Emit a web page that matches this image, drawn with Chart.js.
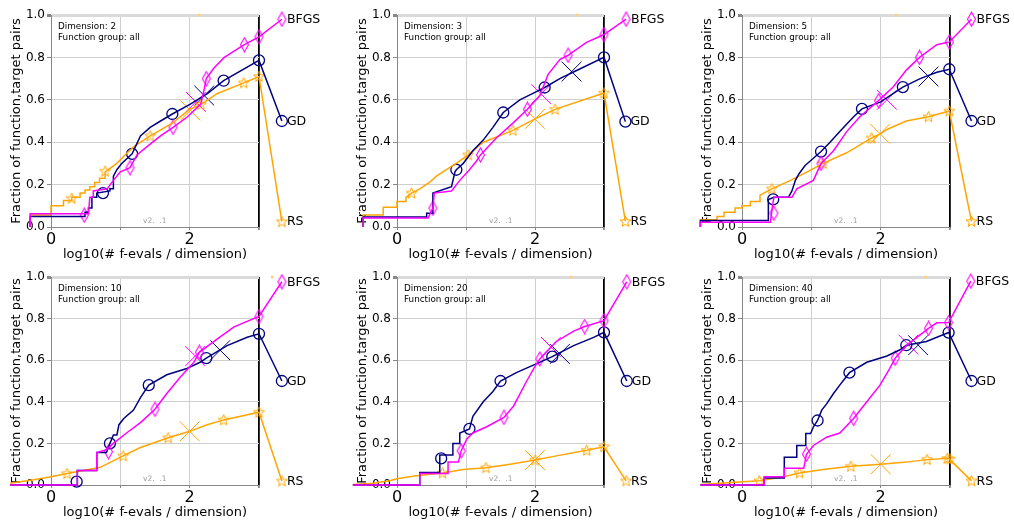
<!DOCTYPE html>
<html>
<head>
<meta charset="utf-8">
<script src="https://cdn.jsdelivr.net/npm/chart.js@4.4.1/dist/chart.umd.min.js"></script>
<style>
  body{margin:0;background:#fff;width:1014px;height:523px;position:relative;overflow:hidden}
  canvas{position:absolute}
</style>
</head>
<body>
<canvas id="p2"></canvas>
<canvas id="p3"></canvas>
<canvas id="p5"></canvas>
<canvas id="p10"></canvas>
<canvas id="p20"></canvas>
<canvas id="p40"></canvas>
<script>
/* ==========================================
   DATA  (x = log10(#f-evals / dim), y = fraction)
========================================== */
const algNames = ["BFGS","GD","RS"];

// D = 2
const bfgs2 = [[-0.30,0],[-0.30,0.063],[0.54,0.063],[0.56,0.14],[0.61,0.14],[0.61,0.17],[0.81,0.18],[0.90,0.22],[1.0,0.26],[1.14,0.28],[1.24,0.34],[1.39,0.38],[1.58,0.43],[1.76,0.47],[1.97,0.52],[2.16,0.58],[2.21,0.65],[2.24,0.70],[2.35,0.75],[2.50,0.80],[2.64,0.83],[2.79,0.86],[3.0,0.897],[3.33,0.98]];
const gd2 = [[-0.30,0],[-0.30,0.05],[0.49,0.05],[0.49,0.07],[0.54,0.07],[0.54,0.09],[0.59,0.09],[0.59,0.14],[0.66,0.14],[0.66,0.16],[0.85,0.17],[0.85,0.18],[0.90,0.18],[0.90,0.24],[0.95,0.27],[1.02,0.30],[1.17,0.345],[1.29,0.43],[1.43,0.47],[1.58,0.50],[1.75,0.533],[2.01,0.58],[2.26,0.63],[2.49,0.69],[3.0,0.786],[3.33,0.50]];
const rs2 = [[-0.30,0],[-0.30,0.057],[0,0.057],[0,0.10],[0.18,0.10],[0.18,0.125],[0.30,0.125],[0.30,0.14],[0.42,0.14],[0.42,0.16],[0.49,0.16],[0.49,0.175],[0.56,0.175],[0.56,0.19],[0.63,0.19],[0.63,0.21],[0.70,0.21],[0.70,0.23],[0.78,0.23],[0.78,0.26],[0.95,0.30],[1.10,0.35],[1.20,0.38],[1.43,0.43],[1.75,0.49],[2.0,0.555],[2.16,0.577],[2.4,0.63],[2.78,0.68],[3.0,0.71],[3.33,0.025]];
const bfgs2Marks = [[0.48,0.056],[1.14,0.28],[1.76,0.47],[2.24,0.70],[2.79,0.86],[3.0,0.897],[3.33,0.98]];
const gd2Marks = [[0.75,0.16],[1.17,0.345],[1.75,0.533],[2.49,0.69],[3.0,0.786],[3.33,0.50]];
const rs2Marks = [[0.30,0.135],[0.78,0.263],[1.43,0.43],[2.16,0.577],[2.78,0.68],[3.0,0.71],[3.33,0.025]];
const cross2 = [[2.09,0.59],[2.21,0.62],[2.01,0.55]];
const dot2 = [[2.14,1.0]];

// D = 3
const bfgs3 = [[-0.49,0],[-0.49,0.042],[0.45,0.042],[0.52,0.089],[0.54,0.16],[0.79,0.17],[0.91,0.22],[1.05,0.27],[1.15,0.31],[1.21,0.34],[1.44,0.42],[1.68,0.49],[1.89,0.555],[2.07,0.62],[2.19,0.72],[2.36,0.79],[2.48,0.81],[2.74,0.87],[3.0,0.908],[3.32,0.98]];
const gd3 = [[-0.49,0],[-0.49,0.047],[0.43,0.047],[0.43,0.065],[0.52,0.065],[0.52,0.16],[0.79,0.19],[0.84,0.26],[0.86,0.27],[0.96,0.30],[1.03,0.33],[1.10,0.36],[1.25,0.41],[1.39,0.47],[1.54,0.54],[1.78,0.60],[1.97,0.63],[2.14,0.658],[2.36,0.70],[2.55,0.73],[3.0,0.80],[3.31,0.497]];
const rs3 = [[-0.49,0],[-0.49,0.057],[-0.2,0.057],[-0.2,0.093],[0,0.093],[0,0.12],[0.13,0.12],[0.13,0.14],[0.21,0.16],[0.33,0.18],[0.47,0.21],[0.57,0.24],[0.71,0.27],[0.86,0.30],[1.03,0.34],[1.25,0.40],[1.68,0.456],[2.0,0.51],[2.29,0.555],[3.0,0.632],[3.31,0.026]];
const bfgs3Marks = [[0.52,0.089],[1.21,0.34],[1.89,0.555],[2.48,0.81],[3.0,0.908],[3.32,0.98]];
const gd3Marks = [[0.86,0.27],[1.54,0.54],[2.14,0.658],[3.0,0.80],[3.31,0.497]];
const rs3Marks = [[0.21,0.16],[1.03,0.34],[1.68,0.456],[2.29,0.555],[3.0,0.632],[3.31,0.026]];
const cross3 = [[2.09,0.627],[2.53,0.733],[2.0,0.51]];
const dot3 = [[2.61,1.0]];

// D = 5
const bfgs5 = [[-0.60,0],[-0.60,0.022],[0.41,0.022],[0.44,0.10],[0.46,0.14],[0.72,0.14],[0.79,0.18],[1.03,0.22],[1.14,0.30],[1.32,0.36],[1.51,0.45],[1.70,0.52],[1.97,0.596],[2.18,0.66],[2.37,0.74],[2.56,0.80],[2.81,0.86],[2.99,0.873],[3.31,0.98]];
const gd5 = [[-0.60,0],[-0.60,0.031],[0.38,0.031],[0.38,0.13],[0.46,0.14],[0.67,0.14],[0.72,0.17],[0.77,0.22],[0.82,0.25],[0.91,0.29],[0.98,0.31],[1.14,0.356],[1.27,0.40],[1.41,0.45],[1.61,0.52],[1.73,0.557],[2.0,0.59],[2.32,0.66],[2.57,0.70],[2.81,0.73],[2.99,0.744],[3.31,0.50]];
const rs5 = [[-0.60,0],[-0.60,0.034],[-0.36,0.034],[-0.36,0.05],[-0.26,0.05],[-0.26,0.07],[-0.10,0.07],[-0.10,0.09],[0,0.09],[0,0.10],[0.12,0.10],[0.12,0.12],[0.26,0.12],[0.26,0.15],[0.43,0.18],[0.70,0.22],[0.94,0.26],[1.17,0.30],[1.51,0.35],[1.87,0.42],[2.0,0.44],[2.09,0.46],[2.37,0.50],[2.69,0.52],[2.99,0.547],[3.31,0.026]];
const bfgs5Marks = [[0.46,0.065],[1.14,0.30],[1.97,0.596],[2.56,0.80],[2.99,0.873],[3.31,0.98]];
const gd5Marks = [[0.45,0.13],[1.14,0.356],[1.73,0.557],[2.32,0.66],[2.99,0.744],[3.31,0.50]];
const rs5Marks = [[0.43,0.18],[1.17,0.30],[1.87,0.42],[2.69,0.52],[2.99,0.547],[3.31,0.026]];
const cross5 = [[2.09,0.60],[2.69,0.71],[1.99,0.44]];
const dot5 = [[2.22,1.0]];

// D = 10
const bfgs10 = [[-0.59,0],[0.38,0],[0.38,0.07],[0.66,0.07],[0.66,0.156],[0.80,0.17],[0.90,0.20],[1.09,0.25],[1.29,0.30],[1.50,0.364],[1.67,0.44],[1.87,0.52],[2.06,0.59],[2.14,0.638],[2.39,0.70],[2.64,0.76],[3.0,0.81],[3.33,0.977]];
const gd10 = [[-0.59,0],[0.38,0],[0.38,0.07],[0.66,0.07],[0.66,0.156],[0.80,0.156],[0.85,0.20],[0.90,0.24],[0.95,0.24],[0.98,0.29],[1.05,0.32],[1.19,0.36],[1.29,0.42],[1.41,0.48],[1.67,0.53],[1.96,0.56],[2.15,0.59],[2.24,0.61],[2.54,0.67],[2.83,0.71],[3.0,0.727],[3.33,0.50]];
const rs10 = [[-0.59,0.008],[-0.25,0.025],[0,0.04],[0.23,0.055],[0.47,0.07],[0.71,0.085],[1.04,0.14],[1.29,0.18],[1.69,0.227],[2.0,0.258],[2.25,0.29],[2.49,0.313],[3.0,0.35],[3.33,0.019]];
const bfgs10Marks = [[0.83,0.16],[1.50,0.364],[2.14,0.638],[3.0,0.81],[3.33,0.977]];
const gd10Marks = [[0.37,0.016],[0.85,0.20],[1.41,0.48],[2.24,0.61],[3.0,0.727],[3.33,0.50]];
const rs10Marks = [[0.23,0.055],[1.04,0.14],[1.69,0.227],[2.49,0.313],[3.0,0.35],[3.33,0.019]];
const cross10 = [[2.08,0.62],[2.44,0.648],[2.0,0.258]];
const dot10 = [[3.19,1.0]];

// D = 20
const bfgs20 = [[-0.64,0],[0.33,0],[0.33,0.055],[0.74,0.055],[0.74,0.11],[0.89,0.11],[0.93,0.164],[1.01,0.22],[1.10,0.25],[1.30,0.28],[1.55,0.325],[1.69,0.38],[1.88,0.50],[2.0,0.57],[2.07,0.606],[2.31,0.69],[2.56,0.74],[2.72,0.762],[3.0,0.79],[3.33,0.977]];
const gd20 = [[-0.64,0],[0.33,0],[0.33,0.06],[0.62,0.06],[0.62,0.144],[0.81,0.144],[0.81,0.20],[0.91,0.20],[0.91,0.25],[1.05,0.27],[1.10,0.33],[1.25,0.40],[1.39,0.45],[1.50,0.50],[1.73,0.54],[2.0,0.58],[2.25,0.617],[2.56,0.67],[2.85,0.71],[3.0,0.734],[3.33,0.50]];
const rs20 = [[-0.64,0.003],[-0.35,0.008],[-0.11,0.02],[0,0.03],[0.28,0.045],[0.66,0.058],[0.96,0.075],[1.29,0.083],[1.64,0.10],[2.0,0.12],[2.31,0.14],[2.75,0.167],[3.0,0.184],[3.32,0.02]];
const bfgs20Marks = [[0.93,0.164],[1.55,0.325],[2.07,0.606],[2.72,0.762],[3.0,0.79],[3.33,0.977]];
const gd20Marks = [[0.64,0.128],[1.05,0.27],[1.50,0.50],[2.25,0.617],[3.0,0.734],[3.33,0.50]];
const rs20Marks = [[0.66,0.058],[1.29,0.083],[2.0,0.12],[2.75,0.167],[3.0,0.184],[3.32,0.02]];
const cross20 = [[2.23,0.664],[2.36,0.63],[2.0,0.12]];
const dot20 = [[2.52,1.0]];

// D = 40
const bfgs40 = [[-0.60,0],[0.32,0],[0.32,0.04],[0.61,0.04],[0.61,0.08],[0.89,0.08],[0.93,0.148],[1.03,0.19],[1.22,0.23],[1.41,0.25],[1.61,0.32],[1.80,0.40],[1.99,0.48],[2.13,0.56],[2.21,0.61],[2.37,0.67],[2.69,0.753],[2.81,0.78],[2.98,0.781],[3.30,0.98]];
const gd40 = [[-0.60,0],[0.32,0],[0.32,0.034],[0.61,0.034],[0.61,0.133],[0.79,0.133],[0.79,0.19],[0.92,0.19],[0.92,0.247],[0.99,0.247],[1.03,0.28],[1.09,0.31],[1.15,0.36],[1.22,0.39],[1.32,0.44],[1.41,0.48],[1.55,0.54],[1.80,0.59],[2.09,0.62],[2.28,0.65],[2.37,0.672],[2.66,0.69],[2.98,0.733],[3.31,0.50]];
const rs40 = [[-0.60,0.003],[-0.26,0.01],[0.25,0.02],[0.60,0.04],[0.83,0.058],[1.17,0.075],[1.57,0.09],[2.0,0.10],[2.37,0.11],[2.67,0.122],[2.98,0.128],[3.31,0.02]];
const bfgs40Marks = [[0.93,0.148],[1.61,0.32],[2.21,0.61],[2.69,0.753],[2.98,0.781],[3.30,0.98]];
const gd40Marks = [[1.09,0.31],[1.55,0.54],[2.37,0.672],[2.98,0.733],[3.31,0.50]];
const rs40Marks = [[0.25,0.02],[0.83,0.058],[1.57,0.09],[2.67,0.122],[2.96,0.128],[3.0,0.125],[3.31,0.02]];
const cross40 = [[2.40,0.675],[2.54,0.672],[2.0,0.10]];
const dot40 = [[2.65,1.0]];

/* ==========================================
   LAYOUT  (canvas box and plot area, page px)
========================================== */
const panels = [
  {id:"p2",  dim:2,  lines:[bfgs2,gd2,rs2],    marks:[bfgs2Marks,gd2Marks,rs2Marks],    cross:cross2,  dot:dot2,  box:[0,0,338,262],     area:[51,13,259,227]},
  {id:"p3",  dim:3,  lines:[bfgs3,gd3,rs3],    marks:[bfgs3Marks,gd3Marks,rs3Marks],    cross:cross3,  dot:dot3,  box:[340,0,334,262],   area:[397,13,604,227]},
  {id:"p5",  dim:5,  lines:[bfgs5,gd5,rs5],    marks:[bfgs5Marks,gd5Marks,rs5Marks],    cross:cross5,  dot:dot5,  box:[674,0,340,262],   area:[742,13,950,227]},
  {id:"p10", dim:10, lines:[bfgs10,gd10,rs10], marks:[bfgs10Marks,gd10Marks,rs10Marks], cross:cross10, dot:dot10, box:[0,262,338,261],   area:[51,272,259,485]},
  {id:"p20", dim:20, lines:[bfgs20,gd20,rs20], marks:[bfgs20Marks,gd20Marks,rs20Marks], cross:cross20, dot:dot20, box:[340,262,334,261], area:[397,272,604,485]},
  {id:"p40", dim:40, lines:[bfgs40,gd40,rs40], marks:[bfgs40Marks,gd40Marks,rs40Marks], cross:cross40, dot:dot40, box:[674,262,340,261], area:[742,272,950,485]}
];

const COLORS = ["#ff00ff","#000080","#ffa500"];

Chart.defaults.font.family = "'DejaVu Sans', sans-serif";
Chart.defaults.color = "#000";

/* ==========================================
   MARKER IMAGES
========================================== */
function diamondImage(color){
  const c = document.createElement("canvas");
  c.width = 11; c.height = 16;
  const g = c.getContext("2d");
  g.strokeStyle = color;
  g.lineWidth = 1.1;
  g.beginPath();
  g.moveTo(5.5,1); g.lineTo(9.5,8); g.lineTo(5.5,15); g.lineTo(1.5,8);
  g.closePath();
  g.stroke();
  return c;
}

function starImage(color){
  const c = document.createElement("canvas");
  c.width = 13; c.height = 13;
  const g = c.getContext("2d");
  g.strokeStyle = color;
  g.lineWidth = 1;
  g.beginPath();
  for(let i=0;i<10;i++){
    const r = i%2===0 ? 5.8 : 2.4;
    const a = -Math.PI/2 + i*Math.PI/5;
    const px = 6.5 + r*Math.cos(a), py = 6.8 + r*Math.sin(a);
    if(i===0) g.moveTo(px,py); else g.lineTo(px,py);
  }
  g.closePath();
  g.stroke();
  return c;
}

const markStyles = [diamondImage(COLORS[0]), "circle", starImage(COLORS[2])];

/* ==========================================
   PLUGINS
========================================== */
// let points outside the axes box be drawn (labels on the right)
const wideArea = {
  id:"wideArea",
  beforeDatasetsDraw(chart){
    chart._keptArea = chart.chartArea;
    chart.chartArea = {left:0, top:0, right:chart.width, bottom:chart.height, width:chart.width, height:chart.height};
  },
  afterDatasetsDraw(chart){
    chart.chartArea = chart._keptArea;
  }
};

const panelText = {
  id:"panelText",
  afterDraw(chart, args, opts){
    const {ctx, chartArea:a, scales} = chart;
    ctx.save();
    ctx.fillStyle = "#000";
    ctx.textAlign = "left";
    ctx.textBaseline = "middle";
    ctx.font = "8.8px 'DejaVu Sans'";
    ctx.fillText("Dimension: " + opts.dim, a.left + 7, a.top + 12);
    ctx.fillText("Function group: all", a.left + 7, a.top + 23);

    ctx.fillStyle = "#a0a0a0";
    ctx.font = "7.5px 'DejaVu Sans'";
    ctx.fillText("v2.  .1", a.left + 92, a.bottom - 6);

    ctx.fillStyle = "#000";
    ctx.font = "12.5px 'DejaVu Sans'";
    opts.marks.forEach((m,i)=>{
      const last = m[m.length-1];
      ctx.fillText(
        algNames[i],
        scales.x.getPixelForValue(last[0]) + 5,
        scales.y.getPixelForValue(last[1]) + 0.5
      );
    });
    ctx.restore();
  }
};

/* ==========================================
   ONE PANEL
========================================== */
function renderPanel(p){

  const [cx,cy,w,h] = p.box;
  const [L,T,R,B] = p.area;

  const cv = document.getElementById(p.id);
  cv.width = w;
  cv.height = h;
  cv.style.left = cx + "px";
  cv.style.top = cy + "px";

  const yw = L - cx;
  const xh = cy + h - B;

  const datasets = [];

  p.lines.forEach((d,i)=>{
    datasets.push({
      data:d,
      borderColor:COLORS[i],
      borderWidth:1.5,
      pointRadius:0,
      fill:false,
      tension:0,
      clip:false
    });
  });

  p.marks.forEach((d,i)=>{
    datasets.push({
      data:d,
      showLine:false,
      pointStyle:markStyles[i],
      pointRadius:5.5,
      pointBorderColor:COLORS[i],
      pointBackgroundColor:"rgba(0,0,0,0)",
      pointBorderWidth:1.3,
      clip:false
    });
  });

  datasets.push({
    data:p.cross,
    showLine:false,
    pointStyle:"crossRot",
    pointRadius:14,
    pointBorderColor:COLORS,
    pointBorderWidth:1,
    clip:false
  });

  datasets.push({
    data:p.dot,
    showLine:false,
    pointRadius:1.5,
    pointBorderWidth:0,
    pointBackgroundColor:"#ffd27a",
    clip:false
  });

  new Chart(cv,{
    type:"line",
    data:{datasets},
    options:{
      responsive:false,
      animation:false,
      events:[],
      layout:{
        padding:{left:0, top:T-cy, right:cx+w-R, bottom:0}
      },
      plugins:{
        legend:{display:false},
        tooltip:{enabled:false},
        panelText:{dim:p.dim, marks:p.marks}
      },
      scales:{
        x:{
          type:"linear",
          // range set after data limits so every point (also the labels past x=3) is kept
          afterDataLimits:s=>{ s.min = 0; s.max = 3; },
          afterBuildTicks:s=>{
            s.ticks = [0,1,2,3].map(v=>({value:v}));
          },
          afterFit:s=>{ s.height = xh; },
          ticks:{
            autoSkip:false,
            maxRotation:0,
            padding:0,
            font:{size:16},
            callback:v=>(v===0||v===2) ? String(v) : ""
          },
          grid:{
            color:c=>c.tick && c.tick.value===3 ? "#000" : "#cfcfcf",
            lineWidth:c=>c.tick && c.tick.value===3 ? 1.8 : 1,
            tickColor:"#888",
            tickLength:3
          },
          border:{color:"#888"},
          title:{
            display:true,
            text:"log10(# f-evals / dimension)",
            font:{size:13},
            padding:{top:0, bottom:xh-35.8}
          }
        },
        y:{
          min:0,
          max:1,
          afterFit:s=>{ s.width = yw; },
          ticks:{
            stepSize:0.2,
            padding:2,
            font:{size:12},
            callback:v=>v.toFixed(1)
          },
          grid:{
            color:c=>c.tick && c.tick.value===1 ? "#dadada" : "#cfcfcf",
            lineWidth:c=>c.tick && c.tick.value===1 ? 3 : 1,
            tickColor:"#888",
            tickLength:4
          },
          border:{color:"#888"},
          title:{
            display:true,
            text:"Fraction of function,target pairs",
            font:{size:13},
            padding:{top:yw-34-7.8, bottom:0}
          }
        }
      }
    },
    plugins:[wideArea, panelText]
  });

}

/* ==========================================
   RENDER ALL PANELS
========================================== */
panels.forEach(renderPanel);
</script>
</body>
</html>
